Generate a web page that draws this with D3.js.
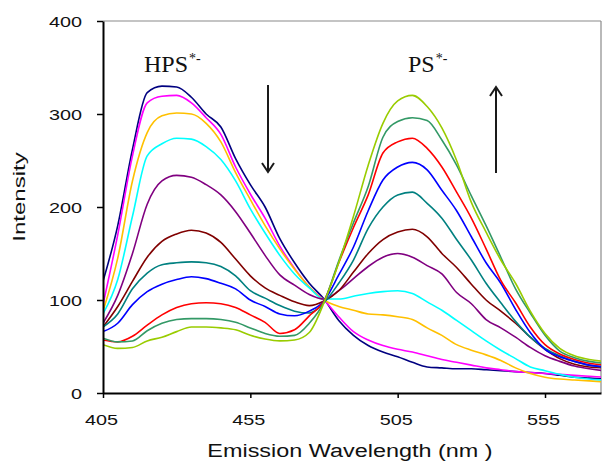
<!DOCTYPE html>
<html><head><meta charset="utf-8">
<script src="https://cdn.jsdelivr.net/npm/d3@7"></script>
<style>html,body{margin:0;padding:0;background:#fff;}svg{display:block;}</style>
</head><body><svg id="c" width="602" height="463"></svg>
<script>
const wavelengths = [405,410,415,420,425,430,435,440,445,450,455,460,465,470,475,480,485,490,495,500,505,510,515,520,525,530,535,540,545,550,555,560,565,570,575];
const seriesNavy    = [120,180,262,323,330,329,318,300,286,252,224,200,166,140,118,101,78,62,51,44,39,33,28,27,26,26,25,24,23,22,21,19,17,16,15];
const seriesMagenta = [95,170,255,312,319,320,312,296,278,243,214,188,158,134,114,100,82,66,57,51,47,44,40,36,33,30,27,25,23,22,21,20,19,18,17];
const seriesOrange  = [88,145,228,280,298,301,300,290,270,237,208,180,155,133,114,100,93,89,85,84,82,79,70,62,52,46,41,35,27,21,17,15,14,13,12];
const seriesCyan    = [85,122,190,255,268,274,273,265,251,228,198,172,148,128,113,101,101,104,107,109,110,107,98,89,78,67,56,46,37,28,24,20,17,15,14];
const seriesPurple  = [75,105,150,203,228,234,232,224,213,195,172,148,127,116,106,101,110,123,136,146,150,146,137,128,108,96,79,70,60,49,40,34,29,26,24];
const seriesMaroon  = [71,93,120,146,163,171,175,172,162,144,126,113,105,98,94,99,110,130,150,165,173,176,168,150,135,117,100,88,75,60,47,37,31,28,27];
const seriesTeal    = [71,85,112,129,138,140,141,140,136,126,110,102,94,88,86,97,118,143,177,200,213,216,204,188,165,143,118,97,77,60,48,40,34,30,28];
const seriesBlue    = [66,75,95,109,117,122,125,123,118,112,100,93,85,83,88,99,127,157,196,229,243,248,240,218,196,168,140,118,90,65,47,39,34,30,28];
const seriesRed     = [57,55,61,73,84,92,96,97,96,92,84,76,64,68,83,99,140,178,213,258,270,274,263,243,216,188,155,121,97,71,52,42,36,32,30];
const seriesSeaGreen= [59,55,56,67,75,79,80,80,79,76,70,64,61,62,75,98,142,183,222,275,292,296,293,272,245,212,180,146,112,86,62,45,38,34,32];
const seriesYellowGreen=[52,48,49,56,60,66,71,71,70,68,62,58,56,57,65,97,140,190,245,290,314,320,308,285,250,205,173,143,118,88,64,48,40,36,34];
const seriesList = [seriesNavy,seriesMagenta,seriesOrange,seriesCyan,seriesPurple,seriesMaroon,seriesTeal,seriesBlue,seriesRed,seriesSeaGreen,seriesYellowGreen];
const seriesColors = ["#000080","#FF00FF","#FFC000","#00FFFF","#800080","#800000","#008080","#0000FF","#FF0000","#339966","#99CC00"];
const xTicks = [405,455,505,555];
const yTicks = [0,100,200,300,400];
const xTitle = "Emission Wavelength (nm )";
const yTitle = "Intensity";
const leftLabel = "HPS", rightLabel = "PS", labelSup = "*-";

const svg = d3.select("#c");
const L = 103, R = 601, T = 21, B = 393;
const x = d3.scaleLinear().domain([405,574]).range([L,R]);
const y = d3.scaleLinear().domain([0,400]).range([B,T]);

function stretch(sel, factor, anchor, ax) {
  sel.each(function(){
    const n = d3.select(this);
    const len = this.getComputedTextLength();
    const nl = len*factor;
    n.attr("textLength", nl).attr("lengthAdjust","spacingAndGlyphs").attr("text-anchor","start");
    let sx = ax;
    if (anchor==="end") sx = ax - nl; else if (anchor==="middle") sx = ax - nl/2;
    n.attr("x", sx);
  });
}

svg.append("defs").append("clipPath").attr("id","clip").append("rect")
  .attr("x",L).attr("y",T-2).attr("width",R-L).attr("height",B-T+2);

// frame (top and right)
svg.append("line").attr("x1",L).attr("x2",R).attr("y1",T).attr("y2",T).attr("stroke","#8a8a8a").attr("stroke-width",1.2);
svg.append("line").attr("x1",R).attr("x2",R).attr("y1",T).attr("y2",B).attr("stroke","#8a8a8a").attr("stroke-width",1.2);

// lines
const line = d3.line().x((d,i)=>x(wavelengths[i])).y(d=>y(d)).curve(d3.curveMonotoneX);
const g = svg.append("g").attr("clip-path","url(#clip)");
seriesList.forEach((s,k)=>{
  g.append("path").datum(s).attr("d",line).attr("fill","none")
    .attr("stroke",seriesColors[k]).attr("stroke-width",1.6).attr("stroke-linejoin","round");
});

// axes
const yAxis = svg.append("g").attr("transform",`translate(${L},0)`)
  .call(d3.axisLeft(y).tickValues(yTicks).tickSize(6).tickPadding(0).tickSizeOuter(0));
yAxis.select(".domain").attr("stroke","#000").attr("stroke-width",2);
yAxis.selectAll(".tick line").attr("stroke","#000").attr("stroke-width",1.5);
yAxis.selectAll(".tick text").attr("font-family","Liberation Sans, Arial, sans-serif").attr("font-size",15).attr("fill","#111").attr("dy","0.36em");
yAxis.selectAll(".tick text").call(stretch,1.32,"end",-21);

const xAxis = svg.append("g").attr("transform",`translate(0,${B})`)
  .call(d3.axisBottom(x).tickValues(xTicks).tickFormat(d3.format("d")).tickSize(5).tickSizeOuter(0));
xAxis.select(".domain").attr("stroke","#000").attr("stroke-width",2);
xAxis.selectAll(".tick line").attr("stroke","#000").attr("stroke-width",1.5);
xAxis.selectAll(".tick text").attr("font-family","Liberation Sans, Arial, sans-serif").attr("font-size",15).attr("fill","#111").attr("dy",0).attr("y",32);
xAxis.selectAll(".tick text").call(stretch,1.32,"middle",-2);

// axis titles
const xt = svg.append("text").attr("y",457).attr("font-family","Liberation Sans, Arial, sans-serif")
  .attr("font-size",18).attr("fill","#111").text(xTitle);
xt.call(stretch,1.3,"middle",350);
const yg = svg.append("g").attr("transform","translate(25,197) rotate(-90)");
const yt = yg.append("text").attr("y",0).attr("font-family","Liberation Sans, Arial, sans-serif")
  .attr("font-size",16).attr("fill","#111").text(yTitle);
yt.call(stretch,1.5,"middle",0);

// annotations
function label(txt, lx, ly) {
  const t = svg.append("text").attr("x",lx).attr("y",ly).attr("font-family","Liberation Serif, Times New Roman, serif")
    .attr("font-size",24).attr("fill","#111");
  t.append("tspan").text(txt);
  t.append("tspan").attr("font-size",14).attr("dy",-9).attr("dx",1).text(labelSup);
}
label(leftLabel,144,72);
label(rightLabel,408,72);

function arrow(ax, y1, y2) {
  const dir = y2 > y1 ? 1 : -1;
  const a = svg.append("g").attr("stroke","#1a1a1a").attr("stroke-width",2).attr("fill","none");
  a.append("line").attr("x1",ax).attr("x2",ax).attr("y1",y1).attr("y2",y2);
  a.append("path").attr("d",`M${ax-6},${y2-dir*9} L${ax},${y2} L${ax+6},${y2-dir*9}`);
}
arrow(268,85,172);
arrow(496,173,87);
</script></body></html>
